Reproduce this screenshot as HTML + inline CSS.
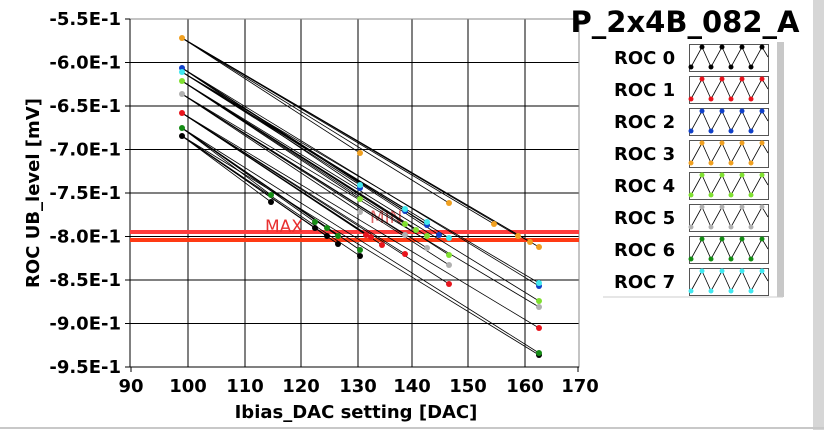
<!DOCTYPE html>
<html><head><meta charset="utf-8"><style>
html,body{margin:0;padding:0;background:#fff}
svg{display:block}
text{font-family:"DejaVu Sans","Liberation Sans",sans-serif;font-weight:bold;fill:#000}
</style></head><body>
<svg width="824" height="430" viewBox="0 0 824 430" xmlns="http://www.w3.org/2000/svg">
<rect width="824" height="430" fill="#fff"/>
<rect x="813" y="0" width="11" height="430" fill="#d6d6d6"/>
<line x1="0" y1="428" x2="824" y2="428" stroke="#c8c8c8" stroke-width="2"/>
<g stroke="#000" stroke-width="1">
<line x1="188" y1="19" x2="188" y2="367"/><line x1="245" y1="19" x2="245" y2="367"/>
<line x1="301" y1="19" x2="301" y2="367"/><line x1="358" y1="19" x2="358" y2="367"/>
<line x1="412" y1="19" x2="412" y2="367"/><line x1="468" y1="19" x2="468" y2="367"/>
<line x1="525" y1="19" x2="525" y2="367"/>
<line x1="130" y1="62.5" x2="579" y2="62.5"/><line x1="130" y1="106" x2="579" y2="106"/>
<line x1="130" y1="149.5" x2="579" y2="149.5"/><line x1="130" y1="193" x2="579" y2="193"/>
<line x1="130" y1="236.5" x2="579" y2="236.5"/><line x1="130" y1="280" x2="579" y2="280"/>
<line x1="130" y1="323.5" x2="579" y2="323.5"/>
</g>
<rect x="130" y="19" width="449" height="348" fill="none" stroke="#888" stroke-width="1"/>
<line x1="130" y1="19" x2="130" y2="367" stroke="#000"/>
<line x1="130" y1="367" x2="579" y2="367" stroke="#000"/>
<g stroke="#000">
<line x1="125" y1="19" x2="130" y2="19"/><line x1="125" y1="62.5" x2="130" y2="62.5"/><line x1="125" y1="106" x2="130" y2="106"/><line x1="125" y1="149.5" x2="130" y2="149.5"/><line x1="125" y1="193" x2="130" y2="193"/><line x1="125" y1="236.5" x2="130" y2="236.5"/><line x1="125" y1="280" x2="130" y2="280"/><line x1="125" y1="323.5" x2="130" y2="323.5"/><line x1="125" y1="367" x2="130" y2="367"/>
<line x1="131" y1="367" x2="131" y2="372"/><line x1="578" y1="367" x2="578" y2="372"/>
</g>
<line x1="130" y1="232" x2="579" y2="232" stroke="#ff3c3c" stroke-width="4"/>
<line x1="130" y1="240" x2="579" y2="240" stroke="#ff3a14" stroke-width="4"/>
<text x="265" y="232" font-size="17" style="font-weight:normal;fill:#e83030">MAX</text>
<text x="370" y="223" font-size="17" style="font-weight:normal;fill:#e06a6a">MIN</text>
<g id="data" stroke="#000" stroke-width="0.8" fill="none"></g>
<g id="pts"></g>
<g font-size="18" text-anchor="end">
<text x="121" y="25">-5.5E-1</text><text x="121" y="68.5">-6.0E-1</text><text x="121" y="112">-6.5E-1</text><text x="121" y="155.5">-7.0E-1</text><text x="121" y="199">-7.5E-1</text><text x="121" y="242.5">-8.0E-1</text><text x="121" y="286">-8.5E-1</text><text x="121" y="329.5">-9.0E-1</text><text x="121" y="373">-9.5E-1</text>
</g>
<g font-size="18" text-anchor="middle">
<text x="131" y="392">90</text><text x="188" y="392">100</text><text x="245" y="392">110</text><text x="301" y="392">120</text><text x="358" y="392">130</text><text x="412" y="392">140</text><text x="468" y="392">150</text><text x="525" y="392">160</text><text x="580" y="392">170</text>
<text x="356" y="418">Ibias_DAC setting [DAC]</text>
<text transform="translate(39,193) rotate(-90)">ROC UB_level [mV]</text>
</g>
<text x="685" y="32" font-size="29" text-anchor="middle">P_2x4B_082_A</text>
<rect x="602" y="42" width="181" height="255" fill="#fff"/>
<rect x="777" y="42" width="7" height="255" fill="#c8c8c8"/>
<line x1="603" y1="297" x2="783" y2="297" stroke="#ccc"/>
<g id="leg"></g>
</svg>
<script>
var ns="http://www.w3.org/2000/svg";
function el(t,a,p){var e=document.createElementNS(ns,t);for(var k in a)e.setAttribute(k,a[k]);p.appendChild(e);return e;}
var cols=["#000","#e8141c","#1040c8","#f0a020","#80e030","#b0b0b0","#148c14","#40e8f0"];
var S={
3:[[182,38],[360,153],[449,203],[494,224],[518,236],[530,242],[539,247]],
2:[[182,68],[360,188],[405,211],[427,225],[439,235],[539,286]],
7:[[182,72],[360,185],[405,209],[427,222],[449,238],[539,283]],
4:[[182,81],[360,199],[405,224],[416,230],[427,236],[449,255],[539,301]],
5:[[182,94],[360,212],[405,235],[427,248],[449,265],[539,307]],
1:[[182,113],[366,235],[371,237],[382,245],[405,254],[449,284],[539,328]],
6:[[182,128],[271,195],[315,222],[327,228],[338,236],[360,250],[539,353]],
0:[[182,136],[271,202],[315,228],[327,236],[338,244],[360,256],[539,355]]};
var g=document.getElementById("data"),p=document.getElementById("pts");
for(var c in S){var a=S[c];for(var i=1;i<a.length;i++)el("line",{x1:a[0][0],y1:a[0][1],x2:a[i][0],y2:a[i][1]},g);}
for(var c in S){S[c].forEach(function(q){el("circle",{cx:q[0],cy:q[1],r:3,fill:cols[c]},p);});}
var L=document.getElementById("leg");
for(var i=0;i<8;i++){var y=44+i*32;
var t=el("text",{x:614,y:y+20,"font-size":18},L);t.textContent="ROC "+i;
el("rect",{x:689.5,y:y+0.5,width:79,height:27,fill:"#fff",stroke:"#555"},L);
var zz=[[691,y+23],[702,y+3],[711,y+23],[722,y+3],[731,y+23],[742,y+3],[751,y+23],[762,y+3],[768,y+13]];
var pts="";zz.forEach(function(q){pts+=q[0]+","+q[1]+" ";});
el("polyline",{points:pts,fill:"none",stroke:"#000","stroke-width":0.8},L);
zz.slice(0,8).forEach(function(q){el("circle",{cx:q[0],cy:q[1],r:2.5,fill:cols[i]},L);});
}
</script>
</body></html>
